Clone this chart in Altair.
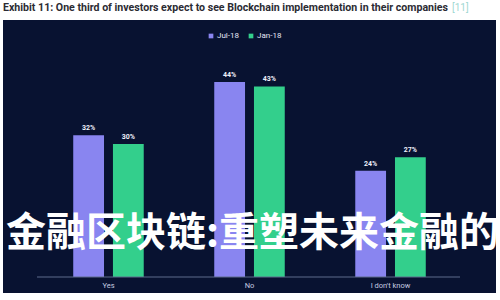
import altair as alt
import pandas as pd

categories = ["Yes", "No", "I don't know"]
series = ["Jul-18", "Jan-18"]
jul_values = [32, 44, 24]
jan_values = [30, 43, 27]
title_text = "Exhibit 11: One third of investors expect to see Blockchain implementation in their companies"
ref_text = "[11]"
overlay_text = "金融区块链:重塑未来金融的"

rows = []
for c, j, k in zip(categories, jul_values, jan_values):
    rows.append({"answer": c, "period": "Jul-18", "value": j, "label": f"{j}%"})
    rows.append({"answer": c, "period": "Jan-18", "value": k, "label": f"{k}%"})
df = pd.DataFrame(rows)

NAVY = "#081231"
PURPLE = "#8985f0"
GREEN = "#33cf8c"

x = alt.X("answer:N", sort=categories,
          scale=alt.Scale(paddingInner=0.5, paddingOuter=0.498),
          axis=alt.Axis(title=None, labelAngle=0, domain=False, ticks=False,
                        labelColor="#c5cbe0", labelFontSize=7.5, labelPadding=4,
                        offset=-16, labelFont="Roboto"))
y = alt.Y("value:Q", scale=alt.Scale(domain=[-3.61, 58.0], nice=False, zero=False),
          axis=None)
xo = alt.XOffset("period:N", sort=series, scale=alt.Scale(paddingInner=0.225, paddingOuter=0))
color = alt.Color("period:N", sort=series,
                  scale=alt.Scale(domain=series, range=[PURPLE, GREEN]),
                  legend=alt.Legend(title=None, orient="none", legendX=204, legendY=12,
                                    direction="horizontal", symbolType="square",
                                    symbolSize=22, labelFontSize=8, labelColor="#e6e8f5",
                                    labelFont="Roboto", symbolStrokeWidth=0,
                                    labelOffset=2))

base = alt.Chart(df)
bars = base.mark_bar().encode(x=x, xOffset=xo, y=y, color=color)
labels = base.mark_text(dy=-7, fontSize=7, fontWeight="bold", color="#eef0fa",
                        font="Roboto", baseline="middle").encode(
    x=x, xOffset=xo, y=y, text="label:N")
baseline = alt.Chart(pd.DataFrame({"z": [0]})).mark_rule(color="#5d6a8c", strokeWidth=1).encode(
    y=alt.Y("z:Q", scale=alt.Scale(domain=[-3.61, 58.0], nice=False, zero=False), axis=None),
    x=alt.value(34), x2=alt.value(457))
title = alt.Chart(pd.DataFrame({"t": [title_text]})).mark_text(
    align="left", baseline="middle", fontSize=10.6, fontWeight="bold", color="#2b2b33",
    font="Roboto").encode(text="t:N", x=alt.value(0), y=alt.value(-12))
ref = alt.Chart(pd.DataFrame({"t": [ref_text]})).mark_text(
    align="left", baseline="middle", fontSize=10, color="#9fd8d2", font="Roboto").encode(
    text="t:N", x=alt.value(449), y=alt.value(-12))
overlay = alt.Chart(pd.DataFrame({"t": [overlay_text]})).mark_text(
    align="left", baseline="middle", fontSize=40, color="#ffffff",
    font="Noto Sans CJK SC", fontWeight="bold").encode(
    text="t:N", x=alt.value(3), y=alt.value(214))

chart = alt.layer(bars, labels, baseline, title, ref, overlay).properties(
    width=493, height=273,
    autosize=alt.AutoSizeParams(type="none"),
    padding={"left": 3, "top": 20, "right": 4, "bottom": 7},
    background="white",
).configure_view(fill=NAVY, stroke=None).configure_legend(columnPadding=8)

chart.save("out.html", embed_options={"renderer": "svg", "actions": False})
